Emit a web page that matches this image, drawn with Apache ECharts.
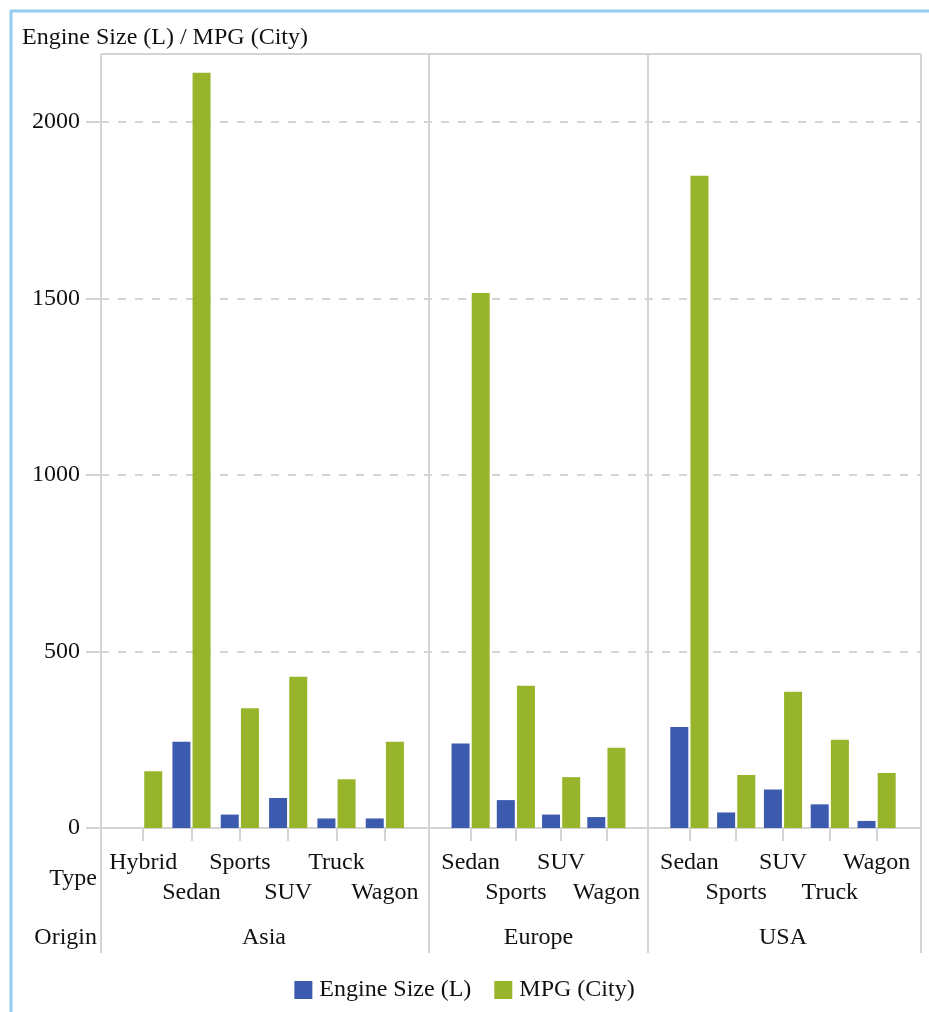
<!DOCTYPE html>
<html lang="en">
<head>
    <meta charset="UTF-8">
    <title>Engine Size / MPG by Origin and Type</title>
    <script src="https://cdn.jsdelivr.net/npm/echarts@6.0.0/dist/echarts.min.js"></script>
    <style>
        html, body { margin: 0; padding: 0; background: #fff; }
        #chart { width: 929px; height: 1012px; }
    </style>
</head>
<body>
<div id="chart"></div>
<script>
    // data
    var origins = ['Asia', 'Europe', 'USA'];
    var asiaTypes = ['Hybrid', 'Sedan', 'Sports', 'SUV', 'Truck', 'Wagon'];
    var europeTypes = ['Sedan', 'Sports', 'SUV', 'Wagon'];
    var usaTypes = ['Sedan', 'Sports', 'SUV', 'Truck', 'Wagon'];

    var asiaEngine = [0, 244, 38, 85, 27, 27];
    var asiaMpg = [161, 2139, 339, 428, 138, 244];
    var europeEngine = [239, 79, 38, 31];
    var europeMpg = [1515, 403, 144, 227];
    var usaEngine = [286, 44, 109, 67, 20];
    var usaMpg = [1847, 150, 386, 250, 156];

    var yTicks = [0, 500, 1000, 1500, 2000];
    var yMax = 2192;

    var FONT = 'Liberation Serif';
    var GRID_LINE = '#d4d4d4';
    var BLUE = '#3c5aae';
    var GREEN = '#97b42b';

    var chart = echarts.init(document.getElementById('chart'));

    // panel layout: [left, right] of each data grid (category ticks sit in the middle of the panel)
    var panels = [
        {types: asiaTypes, engine: asiaEngine, mpg: asiaMpg, left: 119, right: 520},
        {types: europeTypes, engine: europeEngine, mpg: europeMpg, left: 448, right: 300},
        {types: usaTypes, engine: usaEngine, mpg: usaMpg, left: 666, right: 29}
    ];

    var grids = [{left: 101, right: 8, top: 54, bottom: 184}];
    var xAxes = [{
        gridIndex: 0, type: 'value', min: 0, max: 1,
        axisLine: {show: true, lineStyle: {color: GRID_LINE, width: 2}},
        axisTick: {show: false}, axisLabel: {show: false}, splitLine: {show: false}
    }];
    var yAxes = [{
        gridIndex: 0, type: 'value', min: 0, max: yMax,
        axisLine: {show: false},
        axisTick: {show: true, length: 15, customValues: yTicks, lineStyle: {color: GRID_LINE, width: 2}},
        axisLabel: {
            customValues: yTicks, margin: 21, color: '#111', fontFamily: FONT, fontSize: 24,
            formatter: function (v) { return String(v); }
        },
        splitLine: {show: true, lineStyle: {color: GRID_LINE, width: 2, type: [8, 9]}}
    }];
    var series = [];

    panels.forEach(function (p, i) {
        var g = i + 1;
        grids.push({left: p.left, right: p.right, top: 54, bottom: 184});
        // type labels, staggered over two rows
        xAxes.push({
            gridIndex: g, type: 'category', data: p.types,
            axisLine: {show: false},
            axisTick: {show: true, alignWithLabel: true, interval: 0, length: 13, lineStyle: {color: GRID_LINE, width: 2}},
            axisLabel: {
                interval: 0, margin: 20, color: '#111', fontFamily: FONT, fontSize: 24, lineHeight: 30,
                formatter: function (v, idx) { return idx % 2 ? '\n' + v : v; }
            }
        });
        // origin label row
        xAxes.push({
            gridIndex: g, type: 'category', data: [origins[i]], position: 'bottom',
            axisLine: {show: false}, axisTick: {show: false},
            axisLabel: {margin: 95, color: '#111', fontFamily: FONT, fontSize: 24, lineHeight: 30}
        });
        yAxes.push({gridIndex: g, type: 'value', min: 0, max: yMax, show: false});

        series.push({
            name: 'Engine Size (L)', type: 'bar', xAxisIndex: 2 * i + 1, yAxisIndex: g,
            data: p.engine, barWidth: 18, barGap: '12%', itemStyle: {color: BLUE}
        });
        series.push({
            name: 'MPG (City)', type: 'bar', xAxisIndex: 2 * i + 1, yAxisIndex: g,
            data: p.mpg, barWidth: 18, barGap: '12%', itemStyle: {color: GREEN}
        });
    });

    function vline(x, y1, y2) {
        return {type: 'line', shape: {x1: x, y1: y1, x2: x, y2: y2}, style: {stroke: GRID_LINE, lineWidth: 2}, z: 5};
    }

    chart.setOption({
        animation: false,
        title: {
            text: 'Engine Size (L) / MPG (City)', left: 17, top: 21,
            textStyle: {fontFamily: FONT, fontSize: 24, fontWeight: 'normal', color: '#111'}
        },
        legend: {
            bottom: 5, left: 'center', itemWidth: 18, itemHeight: 18, itemGap: 23, icon: 'rect',
            textStyle: {fontFamily: FONT, fontSize: 24, color: '#111', padding: [0, 0, 0, 2]}
        },
        grid: grids,
        xAxis: xAxes,
        yAxis: yAxes,
        series: series,
        graphic: [
            {type: 'line', shape: {x1: 10, y1: 11, x2: 929, y2: 11}, style: {stroke: '#94ccef', lineWidth: 3}},
            {type: 'line', shape: {x1: 11, y1: 10, x2: 11, y2: 1012}, style: {stroke: '#94ccef', lineWidth: 3}},
            {type: 'line', shape: {x1: 101, y1: 54, x2: 921, y2: 54}, style: {stroke: GRID_LINE, lineWidth: 2}, z: 5},
            vline(101, 54, 953), vline(429, 54, 953), vline(648, 54, 953), vline(921, 54, 953),
            {type: 'text', x: 97, y: 879, style: {text: 'Type', align: 'right', verticalAlign: 'middle', font: '24px "Liberation Serif"', fill: '#111'}},
            {type: 'text', x: 97, y: 938, style: {text: 'Origin', align: 'right', verticalAlign: 'middle', font: '24px "Liberation Serif"', fill: '#111'}}
        ]
    });
</script>
</body>
</html>
